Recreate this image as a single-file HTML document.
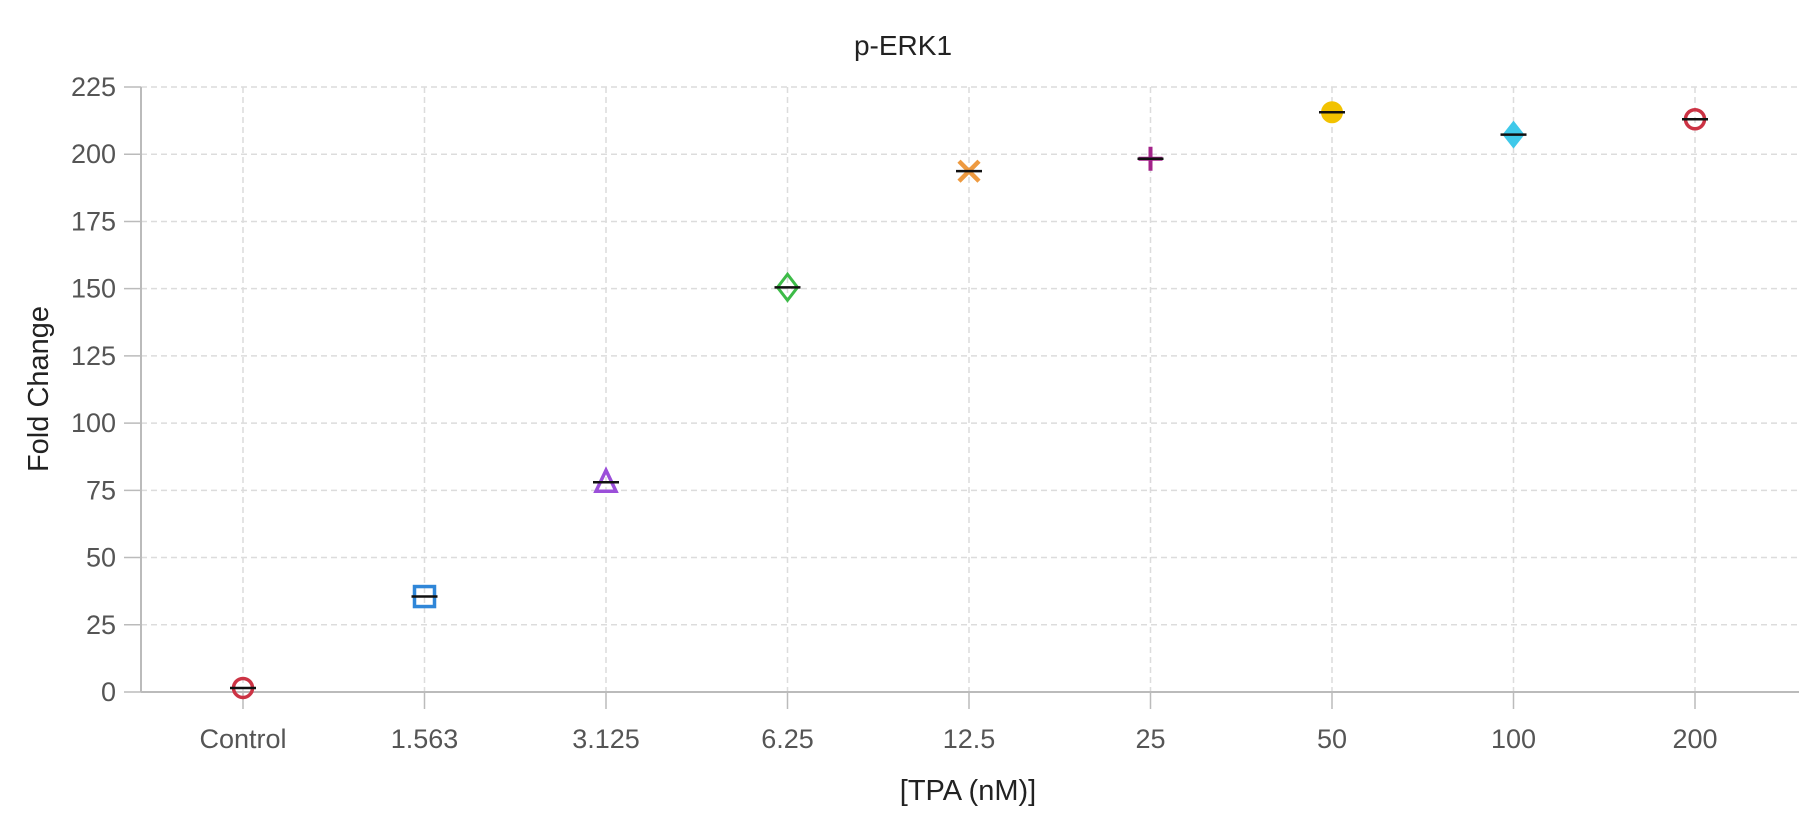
<!DOCTYPE html>
<html><head><meta charset="utf-8"><style>
html,body{margin:0;padding:0;background:#fff;}
svg{display:block;font-family:"Segoe UI","Liberation Sans",sans-serif;}
</style></head><body>
<svg id="chart" width="1820" height="832" viewBox="0 0 1820 832"></svg>
<script>
const categories = ["Control","1.563","3.125","6.25","12.5","25","50","100","200"];
const values = [1.5, 35.5, 78, 150.5, 193.7, 198.3, 215.6, 207.3, 213];
const yTicks = [0,25,50,75,100,125,150,175,200,225];
const shapes = ["circle","square","triangle","diamond","x","plus","dot","fdiamond","circle"];
const colors = ["#cc3344","#2f86d8","#9b4fd9","#3dbb48","#ee9a40","#a3238a","#f2c200","#3fc9ea","#cc3344"];

const NS="http://www.w3.org/2000/svg";
const svg=document.getElementById('chart');
const X0=141, X1=1799, Y0=692, Y1=87, CX0=243, CSTEP=181.5;
function xs(i){return CX0+i*CSTEP;}
function ys(v){return Y0-(v/225)*(Y0-Y1);}
function mk(tag,attrs,name){const e=document.createElementNS(NS,tag);for(const k in attrs)e.setAttribute(k,attrs[k]);


svg.appendChild(e);return e;}
function txt(s,attrs,name){const e=mk('text',attrs,name);e.textContent=s;return e;}

yTicks.forEach(t=>{
  if(t>0) mk('line',{x1:X0,x2:X1,y1:ys(t),y2:ys(t),stroke:'#dcdcdc','stroke-width':1.5,'stroke-dasharray':'6 4'},'y-gridline');
  mk('line',{x1:124,x2:X0,y1:ys(t),y2:ys(t),stroke:'#bbb','stroke-width':1.5},'y-tick');
  txt(String(t),{x:116,y:ys(t)+9,'text-anchor':'end','font-size':27,fill:'#555'},'y-tick-label');
});
categories.forEach((c,i)=>{
  mk('line',{x1:xs(i),x2:xs(i),y1:Y1,y2:Y0,stroke:'#dcdcdc','stroke-width':1.5,'stroke-dasharray':'6 4'},'x-gridline');
  mk('line',{x1:xs(i),x2:xs(i),y1:Y0,y2:Y0+17,stroke:'#bbb','stroke-width':1.5},'x-tick');
  txt(c,{x:xs(i),y:748,'text-anchor':'middle','font-size':27,fill:'#555'},'x-tick-label');
});
mk('line',{x1:X0,x2:X0,y1:Y1,y2:Y0,stroke:'#bbb','stroke-width':2},'y-axis-line');
mk('line',{x1:X0,x2:X1,y1:Y0,y2:Y0,stroke:'#bbb','stroke-width':2},'x-axis-line');

values.forEach((v,i)=>{
  const x=xs(i),y=ys(v),c=colors[i],s=shapes[i];
  const n='marker-'+categories[i].replace('.','-').toLowerCase();
  if(s==='circle') mk('circle',{cx:x,cy:y,r:9.5,fill:'none',stroke:c,'stroke-width':3.5},n);
  else if(s==='dot') mk('circle',{cx:x,cy:y,r:11,fill:c},n);
  else if(s==='square') mk('rect',{x:x-10,y:y-10,width:20,height:20,fill:'none',stroke:c,'stroke-width':3.5},n);
  else if(s==='triangle') mk('polygon',{points:`${x},${y-12} ${x+10},${y+9} ${x-10},${y+9}`,fill:'none',stroke:c,'stroke-width':3.5},n);
  else if(s==='diamond') mk('polygon',{points:`${x},${y-13} ${x+10},${y} ${x},${y+13} ${x-10},${y}`,fill:'none',stroke:c,'stroke-width':3},n);
  else if(s==='fdiamond') mk('polygon',{points:`${x},${y-14} ${x+11},${y} ${x},${y+14} ${x-11},${y}`,fill:c},n);
  else if(s==='x') mk('path',{d:`M${x-10},${y-10}L${x+10},${y+10}M${x+10},${y-10}L${x-10},${y+10}`,stroke:c,'stroke-width':4.5},n);
  else if(s==='plus') mk('path',{d:`M${x-12},${y}L${x+12},${y}M${x},${y-12}L${x},${y+12}`,stroke:c,'stroke-width':4},n);
  mk('line',{x1:x-13,x2:x+13,y1:y,y2:y,stroke:'#111','stroke-width':2.5},'error-bar');
});

txt('p-ERK1',{x:903,y:55,'text-anchor':'middle','font-size':28,fill:'#222'},'chart-title');
txt('[TPA (nM)]',{x:968,y:800,'text-anchor':'middle','font-size':29,fill:'#222'},'x-axis-title');
txt('Fold Change',{x:0,y:0,'text-anchor':'middle','font-size':29,fill:'#222',transform:'translate(48,389) rotate(-90)'},'y-axis-title');
</script>
</body></html>
